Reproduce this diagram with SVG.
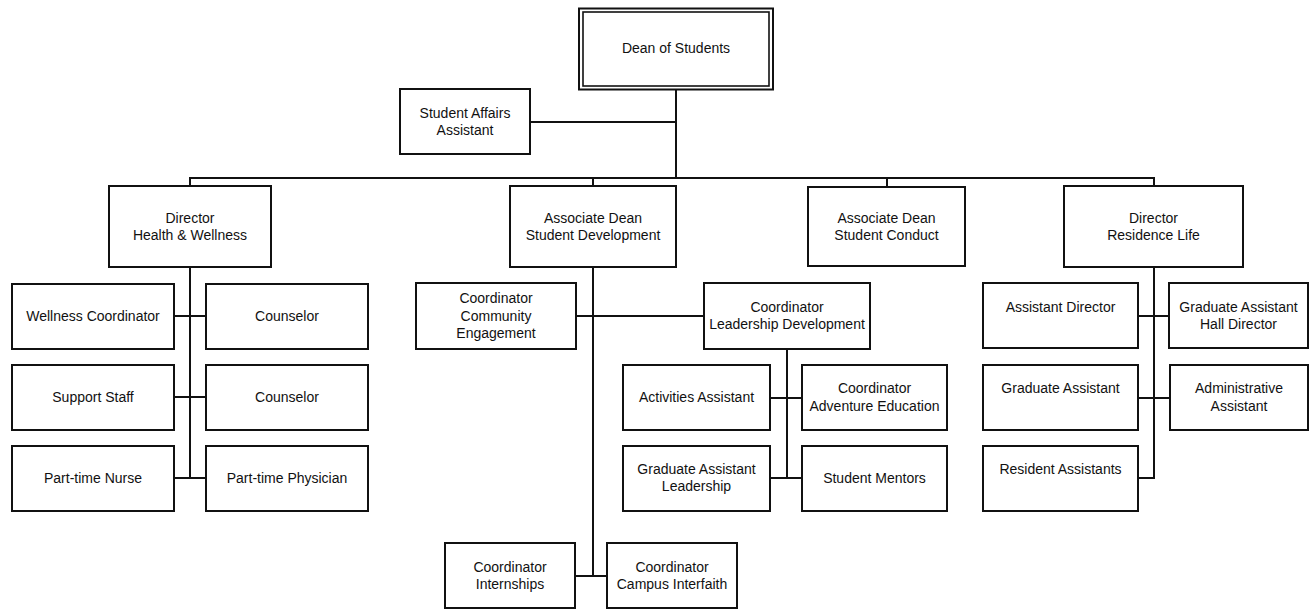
<svg xmlns="http://www.w3.org/2000/svg" width="1312" height="609" viewBox="0 0 1312 609">
<style>
.b{fill:#fff;stroke:#111;stroke-width:2}
.b2{fill:none;stroke:#111;stroke-width:1.6}
.c line{stroke:#111;stroke-width:2}
text{font-family:"Liberation Sans",Arial,sans-serif;font-size:14px;fill:#111;text-anchor:middle}
</style>
<rect width="1312" height="609" fill="#fff"/>
<g id="connectors" class="c">
<line x1="676" y1="90" x2="676" y2="178"/>
<line x1="530" y1="122" x2="676" y2="122"/>
<line x1="189" y1="178" x2="1155" y2="178"/>
<line x1="190" y1="178" x2="190" y2="186"/>
<line x1="593" y1="178" x2="593" y2="186"/>
<line x1="887" y1="178" x2="887" y2="187"/>
<line x1="1154" y1="178" x2="1154" y2="186"/>
<line x1="190" y1="267" x2="190" y2="479"/>
<line x1="174" y1="316" x2="206" y2="316"/>
<line x1="174" y1="397" x2="206" y2="397"/>
<line x1="174" y1="478" x2="206" y2="478"/>
<line x1="593" y1="267" x2="593" y2="577"/>
<line x1="576" y1="316" x2="704" y2="316"/>
<line x1="575" y1="576" x2="607" y2="576"/>
<line x1="787" y1="349" x2="787" y2="479"/>
<line x1="770" y1="398" x2="802" y2="398"/>
<line x1="770" y1="478" x2="802" y2="478"/>
<line x1="1154" y1="267" x2="1154" y2="479"/>
<line x1="1138" y1="316" x2="1169" y2="316"/>
<line x1="1138" y1="398" x2="1170" y2="398"/>
<line x1="1138" y1="478" x2="1154" y2="478"/>
</g>
<g id="dean"><rect class="b" x="579" y="8.5" width="194" height="81"/><rect class="b2" x="583" y="12" width="186" height="74"/><text x="676" y="53">Dean of Students</text></g>
<g id="saa"><rect class="b" x="400" y="89" width="130" height="65"/><text x="465" y="118">Student Affairs</text><text x="465" y="135">Assistant</text></g>
<g id="dhw"><rect class="b" x="109" y="186" width="162" height="81"/><text x="190" y="223">Director</text><text x="190" y="240">Health &amp; Wellness</text></g>
<g id="adsd"><rect class="b" x="510" y="186" width="166" height="81"/><text x="593" y="223">Associate Dean</text><text x="593" y="240">Student Development</text></g>
<g id="adsc"><rect class="b" x="808" y="187" width="157" height="79"/><text x="886.5" y="223">Associate Dean</text><text x="886.5" y="240">Student Conduct</text></g>
<g id="drl"><rect class="b" x="1064" y="186" width="179" height="81"/><text x="1153.5" y="223">Director</text><text x="1153.5" y="240">Residence Life</text></g>
<g id="wc"><rect class="b" x="12" y="284" width="162" height="65"/><text x="93" y="321">Wellness Coordinator</text></g>
<g id="c1"><rect class="b" x="206" y="284" width="162" height="65"/><text x="287" y="321">Counselor</text></g>
<g id="ss"><rect class="b" x="12" y="365" width="162" height="65"/><text x="93" y="402">Support Staff</text></g>
<g id="c2"><rect class="b" x="206" y="365" width="162" height="65"/><text x="287" y="402">Counselor</text></g>
<g id="ptn"><rect class="b" x="12" y="446" width="162" height="65"/><text x="93" y="483">Part-time Nurse</text></g>
<g id="ptp"><rect class="b" x="206" y="446" width="162" height="65"/><text x="287" y="483">Part-time Physician</text></g>
<g id="cce"><rect class="b" x="416" y="283" width="160" height="66"/><text x="496" y="303">Coordinator</text><text x="496" y="321">Community</text><text x="496" y="338">Engagement</text></g>
<g id="cld"><rect class="b" x="704" y="283" width="166" height="66"/><text x="787" y="312">Coordinator</text><text x="787" y="329">Leadership Development</text></g>
<g id="aa"><rect class="b" x="623" y="365" width="147" height="65"/><text x="696.5" y="402">Activities Assistant</text></g>
<g id="cae"><rect class="b" x="802" y="365" width="145" height="65"/><text x="874.5" y="393">Coordinator</text><text x="874.5" y="411">Adventure Education</text></g>
<g id="gal"><rect class="b" x="623" y="446" width="147" height="65"/><text x="696.5" y="474">Graduate Assistant</text><text x="696.5" y="491">Leadership</text></g>
<g id="sm"><rect class="b" x="802" y="446" width="145" height="65"/><text x="874.5" y="483">Student Mentors</text></g>
<g id="ci"><rect class="b" x="445" y="543" width="130" height="65"/><text x="510" y="572">Coordinator</text><text x="510" y="589">Internships</text></g>
<g id="ccif"><rect class="b" x="607" y="543" width="130" height="65"/><text x="672" y="572">Coordinator</text><text x="672" y="589">Campus Interfaith</text></g>
<g id="ad"><rect class="b" x="983" y="283" width="155" height="65"/><text x="1060.5" y="312">Assistant Director</text></g>
<g id="gahd"><rect class="b" x="1169" y="283" width="139" height="65"/><text x="1238.5" y="312">Graduate Assistant</text><text x="1238.5" y="329">Hall Director</text></g>
<g id="ga"><rect class="b" x="983" y="365" width="155" height="65"/><text x="1060.5" y="393">Graduate Assistant</text></g>
<g id="adma"><rect class="b" x="1170" y="365" width="138" height="65"/><text x="1239" y="393">Administrative</text><text x="1239" y="411">Assistant</text></g>
<g id="ra"><rect class="b" x="983" y="446" width="155" height="65"/><text x="1060.5" y="474">Resident Assistants</text></g>
</svg>
